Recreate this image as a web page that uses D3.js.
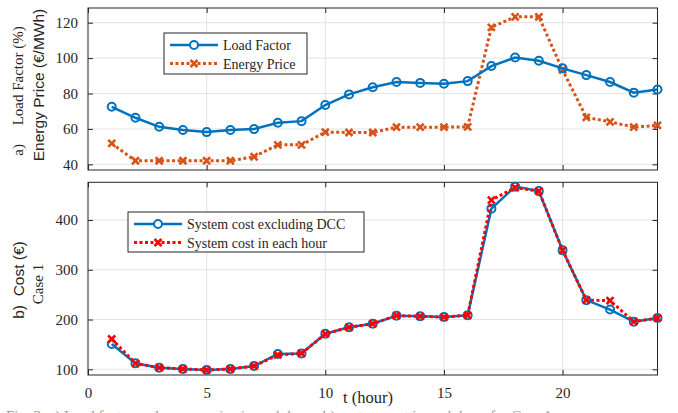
<!DOCTYPE html>
<html>
<head>
<meta charset="utf-8">
<script src="https://cdn.jsdelivr.net/npm/d3@7"></script>
<style>
  body { margin: 0; background: #fff; }
  .tick text { font-family: "Liberation Serif", "Times New Roman", serif; font-size: 15px; fill: #262626; }
  .serif { font-family: "Liberation Serif", "Times New Roman", serif; }
  .sans { font-family: "Liberation Sans", Arial, sans-serif; }
</style>
</head>
<body>
<div id="chart-area"></div>
<script>
// data
var hours = d3.range(1, 25);
var loadFactor = [72.5, 66.3, 61.2, 59.4, 58.2, 59.4, 59.9, 63.5, 64.4, 73.5, 79.5, 83.5,
                  86.5, 86, 85.5, 87, 95.5, 100.3, 98.5, 94.2, 90.4, 86.5, 80.5, 82.3];
var energyPrice = [51.8, 42, 42, 42, 42, 42, 44.3, 51, 51, 58.2, 58, 58,
                   61, 61, 61, 61.2, 117.4, 123.3, 123.3, 93.3, 66.5, 64, 61, 62];
var costExclDCC = [151, 112, 103.3, 100.7, 98.7, 100.7, 106.7, 130.8, 132, 171.6, 184.4, 191.7,
                   207.8, 206.5, 205, 208.5, 422.8, 467, 458, 339, 239, 220, 195.8, 203];
var costHour = [161, 112, 103.3, 100.7, 98.7, 100.7, 106.7, 129, 132, 171, 184.4, 191.7,
                207.8, 206.5, 205, 208.5, 440, 465, 458, 339, 239, 238, 195.8, 203];
var xTicks = [0, 5, 10, 15, 20];
var topTicks = [40, 60, 80, 100, 120];
var bottomTicks = [100, 200, 300, 400];

var blue = "#0072BD", orange = "#D95319", red = "#FF0000";

var svg = d3.select("#chart-area").append("svg")
    .attr("width", 678)
    .attr("height", 413);

// shared x scale
var x = d3.scaleLinear().domain([0, 24]).range([88, 657.5]);

var yTop = d3.scaleLinear().domain([36.8, 128.3]).range([170, 8]);
var yBot = d3.scaleLinear().domain([88.6, 475.7]).range([375, 182.3]);

function drawPanel(y, yTicks, showXLabels) {
    var g = svg.append("g");
    var y0 = y.range()[0], y1 = y.range()[1];

    // grid
    g.selectAll(".gx").data(xTicks.filter(d => d > 0)).enter().append("line")
        .attr("x1", d => x(d)).attr("x2", d => x(d))
        .attr("y1", y0).attr("y2", y1)
        .attr("stroke", "#e3e3e3").attr("stroke-width", 1);
    g.selectAll(".gy").data(yTicks).enter().append("line")
        .attr("x1", x(0)).attr("x2", x(24))
        .attr("y1", d => y(d)).attr("y2", d => y(d))
        .attr("stroke", "#e3e3e3").attr("stroke-width", 1);

    // axes, ticks pointing inside
    var left = g.append("g").attr("transform", "translate(" + x(0) + ",0)")
        .call(d3.axisLeft(y).tickValues(yTicks).tickSizeInner(-5).tickSizeOuter(0).tickPadding(10));
    var right = g.append("g").attr("transform", "translate(" + x(24) + ",0)")
        .call(d3.axisRight(y).tickValues(yTicks).tickSizeInner(-5).tickSizeOuter(0).tickFormat(""));
    var bottom = g.append("g").attr("transform", "translate(0," + y0 + ")")
        .call(d3.axisBottom(x).tickValues(xTicks).tickSizeInner(-5).tickSizeOuter(0).tickPadding(12)
            .tickFormat(showXLabels ? d3.format("d") : ""));
    var top = g.append("g").attr("transform", "translate(0," + y1 + ")")
        .call(d3.axisTop(x).tickValues(xTicks).tickSizeInner(-5).tickSizeOuter(0).tickFormat(""));
    [left, right, bottom, top].forEach(function(a) {
        a.select(".domain").remove();
        a.selectAll(".tick line").attr("stroke", "#262626");
    });
    g.append("rect")
        .attr("x", x(0)).attr("y", y1)
        .attr("width", x(24) - x(0)).attr("height", y0 - y1)
        .attr("fill", "none").attr("stroke", "#262626").attr("stroke-width", 1);
    return g;
}

function circleSeries(g, y, values, color) {
    g.append("path").datum(values)
        .attr("fill", "none").attr("stroke", color).attr("stroke-width", 2.5)
        .attr("d", d3.line().x((d, i) => x(hours[i])).y(d => y(d)));
    g.selectAll(null).data(values).enter().append("circle")
        .attr("cx", (d, i) => x(hours[i])).attr("cy", d => y(d)).attr("r", 4)
        .attr("fill", "none").attr("stroke", color).attr("stroke-width", 2);
}

function crossSeries(g, y, values, color) {
    g.append("path").datum(values)
        .attr("fill", "none").attr("stroke", color).attr("stroke-width", 3)
        .attr("stroke-dasharray", "3,2.5")
        .attr("d", d3.line().x((d, i) => x(hours[i])).y(d => y(d)));
    g.selectAll(null).data(values).enter().append("path")
        .attr("transform", (d, i) => "translate(" + x(hours[i]) + "," + y(d) + ")")
        .attr("d", "M-3.5,-3.5L3.5,3.5M-3.5,3.5L3.5,-3.5")
        .attr("stroke", color).attr("stroke-width", 2.6);
}

// panel a
var ga = drawPanel(yTop, topTicks, false);
crossSeries(ga, yTop, energyPrice, orange);
circleSeries(ga, yTop, loadFactor, blue);

// panel b
var gb = drawPanel(yBot, bottomTicks, true);
circleSeries(gb, yBot, costExclDCC, blue);
crossSeries(gb, yBot, costHour, red);

// legends
function legend(bx, by, w, h, items) {
    var lg = svg.append("g");
    lg.append("rect").attr("x", bx).attr("y", by).attr("width", w).attr("height", h)
        .attr("fill", "#fff").attr("stroke", "#262626").attr("stroke-width", 1);
    items.forEach(function(it, i) {
        var yy = by + 12 + i * 18.5;
        var l = lg.append("line").attr("x1", bx + 6).attr("x2", bx + 54)
            .attr("y1", yy).attr("y2", yy).attr("stroke", it.color);
        if (it.type === "circle") {
            l.attr("stroke-width", 2.5);
            lg.append("circle").attr("cx", bx + 30).attr("cy", yy).attr("r", 4)
                .attr("fill", "#fff").attr("stroke", it.color).attr("stroke-width", 2);
        } else {
            l.attr("stroke-width", 3).attr("stroke-dasharray", "3,2.5");
            lg.append("path").attr("transform", "translate(" + (bx + 30) + "," + yy + ")")
                .attr("d", "M-3.5,-3.5L3.5,3.5M-3.5,3.5L3.5,-3.5")
                .attr("stroke", it.color).attr("stroke-width", 2.6);
        }
        lg.append("text").attr("class", "serif").attr("x", bx + 59).attr("y", yy + 5)
            .attr("font-size", "14px").attr("fill", "#262626").text(it.label);
    });
}
legend(164, 33, 143, 41, [
    { label: "Load Factor", color: blue, type: "circle" },
    { label: "Energy Price", color: orange, type: "cross" }
]);
legend(128, 212, 236, 40, [
    { label: "System cost excluding DCC", color: blue, type: "circle" },
    { label: "System cost in each hour", color: red, type: "cross" }
]);

// y labels
function ylabel(cx, cy, parts) {
    var t = svg.append("text")
        .attr("transform", "translate(" + cx + "," + cy + ") rotate(-90)")
        .attr("text-anchor", "middle").attr("fill", "#262626")
        .attr("xml:space", "preserve");
    parts.forEach(function(p) {
        t.append("tspan").attr("class", p.cls).attr("font-size", p.size + "px").text(p.text);
    });
}
ylabel(23, 91, [
    { text: "a)", cls: "serif", size: 15 },
    { text: "\u00a0\u00a0\u00a0\u00a0\u00a0", cls: "serif", size: 15 },
    { text: "Load Factor (%)", cls: "serif", size: 15 }
]);
ylabel(44, 85, [{ text: "Energy Price (\u20ac/MWh)", cls: "sans", size: 15.5 }]);
ylabel(24, 280, [
    { text: "b)", cls: "sans", size: 15.5 },
    { text: "\u00a0\u00a0", cls: "sans", size: 15.5 },
    { text: "Cost (\u20ac)", cls: "sans", size: 15.5 }
]);
ylabel(43, 284, [{ text: "Case 1", cls: "serif", size: 15 }]);

// x label
svg.append("text").attr("x", 343).attr("y", 403)
    .style("font-family", "'Liberation Serif', 'Times New Roman', serif")
    .attr("font-size", "16.5px").attr("fill", "#262626").text("t (hour)");

// caption of the figure, only its top shows at the bottom edge
svg.append("text").attr("class", "serif").attr("x", 6).attr("y", 421)
    .attr("font-size", "15px").attr("fill", "#9a9a9a")
    .text("Fig. 3.  a) Load factor and energy price in each hour; b) system cost in each hour for Case 1.");
</script>
</body>
</html>
